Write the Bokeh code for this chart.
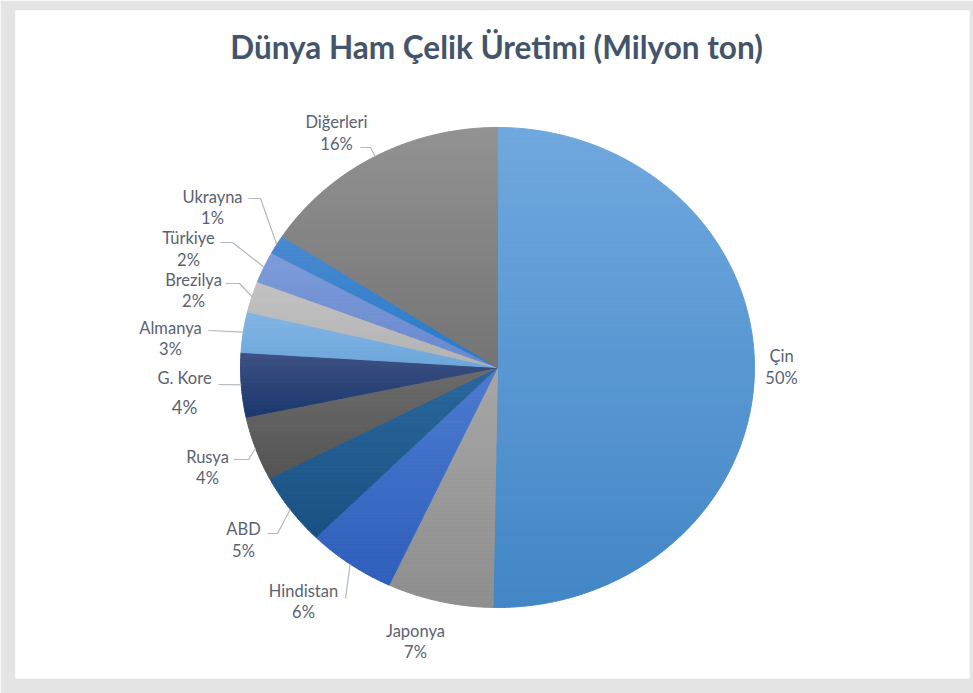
import math
from bokeh.plotting import figure
from bokeh.models import ColumnDataSource, Range1d, Label
from bokeh.core.properties import value, field
from bokeh.embed import file_html
from bokeh.resources import INLINE

# ---------------- data ----------------
categories = ["Çin", "Japonya", "Hindistan", "ABD", "Rusya", "G. Kore",
              "Almanya", "Brezilya", "Türkiye", "Ukrayna", "Diğerleri"]
production = [815, 108, 90, 79, 70, 70, 44, 34, 34, 21, 256]  # milyon ton

title_text = "Dünya Ham Çelik Üretimi (Milyon ton)"

# ---------------- style ----------------
top_colors = ["#71a8de", "#a6a6a6", "#4c7bd0", "#2b679c", "#6c6c6c", "#3e5183",
              "#82b6e6", "#c2c2c2", "#7e9cda", "#4a8ad0", "#929292"]
bottom_colors = ["#4286c6", "#8f8f8f", "#2f5fbb", "#1a5184", "#545454", "#1b386e",
                 "#6ea6da", "#b2b2b2", "#6888ce", "#2879c9", "#747474"]
label_color = "#5a6272"
leader_color = "#b0b8c4"

# ---------------- layout (page pixels) ----------------
CX, CY, RX, RY = 497, 367, 257, 240
label_x = [781, 415, 303, 243, 207, 184, 170, 193, 188, 212, 336]
name_y = [355, 630, 590, 528, 456, 377, 327, 279, 237, 196, 121]
pct_y = [377, 651, 611, 550, 477, 406, 348, 300, 259, 217, 143]
pct_size = ["16.5px", "16.5px", "16.5px", "16.5px", "16.5px", "18.5px",
            "16.5px", "16.5px", "16.5px", "16.5px", "16.5px"]
leader_start = [None, None, (345, 598), (267, 533), (233, 459), (218, 384),
                (208, 330), (225, 283), (220, 242), (248, 198), (360, 147)]
leader_elbow = [None, None, (345, 598), (277, 533), (248, 459), (218, 384),
                (208, 330), (239, 283), (232, 242), (260, 198), (370, 147)]

# ---------------- helpers ----------------
def ellipse_pt(frac):
    t = 2 * math.pi * frac
    return CX + RX * math.sin(t), CY - RY * math.cos(t)


def hex_to_rgb(h):
    h = h.lstrip("#")
    return tuple(int(h[i:i + 2], 16) for i in (0, 2, 4))


def mix(c1, c2, t):
    a, b = hex_to_rgb(c1), hex_to_rgb(c2)
    return "#%02x%02x%02x" % tuple(int(round(a[i] + (b[i] - a[i]) * t)) for i in range(3))


def clip_half(pts, yc, sign):
    out = []
    n = len(pts)
    for i in range(n):
        cur, prev = pts[i], pts[i - 1]
        cin = sign * (cur[1] - yc) >= 0
        pin = sign * (prev[1] - yc) >= 0
        if cin:
            if not pin:
                t = (yc - prev[1]) / (cur[1] - prev[1])
                out.append((prev[0] + t * (cur[0] - prev[0]), yc))
            out.append(cur)
        elif pin:
            t = (yc - prev[1]) / (cur[1] - prev[1])
            out.append((prev[0] + t * (cur[0] - prev[0]), yc))
    return out


total = float(sum(production))
fracs = [v / total for v in production]
starts = []
acc = 0.0
for f in fracs:
    starts.append(acc)
    acc += f

band_xs, band_ys, band_col = [], [], []
for i, f in enumerate(fracs):
    f0, f1 = starts[i], starts[i] + f
    steps = max(3, int(f * 600))
    poly = [(CX, CY)] + [ellipse_pt(f0 + (f1 - f0) * k / steps) for k in range(steps + 1)]
    ymin = min(p[1] for p in poly)
    ymax = max(p[1] for p in poly)
    nb = max(1, int(math.ceil((ymax - ymin) / 4.0)))
    h = (ymax - ymin) / nb
    for k in range(nb):
        y0 = ymin + k * h
        y1 = y0 + h
        band = clip_half(clip_half(poly, y0, 1), y1, -1)
        if len(band) >= 3:
            band_xs.append([p[0] for p in band])
            band_ys.append([p[1] for p in band])
            band_col.append(mix(top_colors[i], bottom_colors[i], (k + 0.5) / nb))

# leader lines
lx, ly = [], []
for i in range(len(categories)):
    if leader_start[i] is None:
        continue
    px, py = ellipse_pt(starts[i] + fracs[i] / 2)
    s, e = leader_start[i], leader_elbow[i]
    lx.append([s[0], e[0], px])
    ly.append([s[1], e[1], py])

pct_text = ["%d%%" % int(round(f * 100)) for f in fracs]

# ---------------- figure ----------------
p = figure(width=973, height=693, output_backend="svg", toolbar_location=None,
           x_range=Range1d(15, 969), y_range=Range1d(678, 10),
           x_axis_location=None, y_axis_location=None, title=None,
           min_border_left=15, min_border_right=4, min_border_top=10, min_border_bottom=15)
p.xgrid.visible = False
p.ygrid.visible = False
p.outline_line_color = None
p.border_fill_color = "#e4e4e4"
p.background_fill_color = "white"

p.patches(xs=band_xs, ys=band_ys, fill_color=band_col, line_color=band_col, line_width=1)
p.multi_line(xs=lx, ys=ly, line_color=leader_color, line_width=1.2)

name_src = ColumnDataSource(dict(x=label_x, y=name_y, text=categories))
p.text(x="x", y="y", text="text", source=name_src, text_font=value("Lato"),
       text_font_size="16.5px", text_align="center", text_baseline="middle",
       text_color=label_color)
pct_src = ColumnDataSource(dict(x=label_x, y=pct_y, text=pct_text, size=pct_size))
p.text(x="x", y="y", text="text", source=pct_src, text_font=value("Lato"),
       text_font_size=field("size"), text_align="center", text_baseline="middle",
       text_color=label_color)

p.add_layout(Label(x=496, y=46, text=title_text, text_font="Lato",
                   text_font_style="bold", text_font_size="31.5px",
                   text_color="#44546a", text_align="center", text_baseline="middle"))

open("out.html", "w").write(file_html(p, INLINE))
